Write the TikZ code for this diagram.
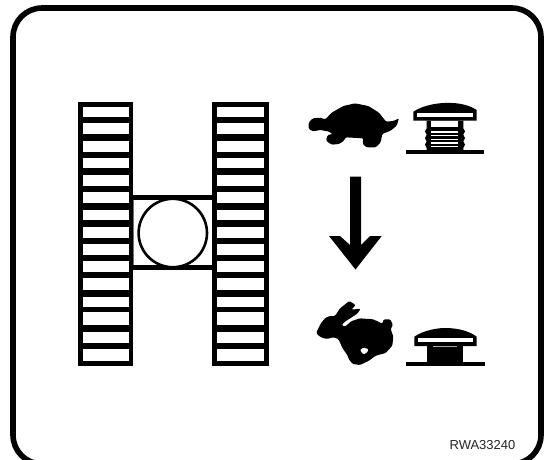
\documentclass[tikz,border=0pt]{standalone}
\usepackage{fontspec}
\setmainfont{Liberation Sans}
\tikzset{
  frameline/.style={draw=black,line width=5.6pt,rounded corners=29pt},
  zoomA/.style={x=0.33333pt,y=-0.33333pt},
  code/.style={font=\fontsize{13}{13}\selectfont,text=black!85,inner sep=0pt}
}
\begin{document}
\begin{tikzpicture}[x=1pt,y=-1pt]
\useasboundingbox (0,0) rectangle (547,459);
\fill[white] (0,0) rectangle (547,459);
\begin{scope}
\clip (0,0) rectangle (547,459);
\draw[frameline] (13,8) rectangle (541,464);
\end{scope}
% crosspieces and circle
\fill[black] (130,195.3) rectangle (215,200);
\fill[black] (130,265) rectangle (215,269.5);
\fill[black!55] (133,200) rectangle (133.8,265);
\fill[black!55] (211.6,200) rectangle (212.4,265);
\draw[black,line width=2.6pt,fill=white] (172.8,233) circle (34.2);
% tracks
\begin{scope}[shift={(60,90)},zoomA]
\fill[black] (53,35) rectangle (220,828);
\fill[black] (457,35) rectangle (627,828);
\foreach \a/\b in {50/82,98/132,152/185,203/235,256/288,306/340,360/390,411/443,462/495,513/545,564/600,620/650,666/705,726/758,776/812}{
  \fill[white] (68,\a) rectangle (206,\b);
  \fill[white] (471,\a) rectangle (612,\b);
}
\end{scope}
% turtle
\begin{scope}[shift={(300,90)},zoomA]
\fill[black,rounded corners=1.2pt] (26,98) -- (38,85) -- (60,83) -- (76,88) -- (95,68) -- (130,48) -- (165,40) -- (205,48) -- (237,68) -- (258,95) -- (280,93) -- (297,85) -- (290,107) -- (272,122) -- (247,132) -- (242,157) -- (227,172) -- (200,172) -- (188,162) -- (190,145) -- (137,142) -- (132,152) -- (117,162) -- (95,164) -- (78,152) -- (83,135) -- (98,132) -- (85,124) -- (60,120) -- (40,124) -- (26,117) -- cycle;
\end{scope}
% top button
\begin{scope}[shift={(400,95)},zoomA]
\fill[black] (40,77) -- (40,50) .. controls (70,30) and (120,20) .. (170,25) .. controls (195,28) and (215,35) .. (230,45) -- (230,77) -- cycle;
\fill[white] (52,55) rectangle (218,66);
\fill[black] (80,77) -- (80,100) -- (75,109) -- (80,119) -- (75,129) -- (80,139) -- (75,149) -- (80,159) -- (80,168) -- (190,168) -- (190,159) -- (195,149) -- (190,139) -- (195,129) -- (190,119) -- (195,109) -- (190,100) -- (190,77) -- cycle;
\fill[white] (93,77) rectangle (175,95);
\foreach \a in {109,120,131,142,153}{
  \fill[white] (93,\a) rectangle (175,\a+3.5);
}
\fill[black] (18,165) rectangle (252,178);
\end{scope}
% arrow
\fill[black] (350,176.7) -- (361,176.7) -- (361,245) -- (370,236) -- (381.7,236) -- (355.5,269.5) -- (329,236) -- (340,236) -- (350,245) -- cycle;
% rabbit
\begin{scope}[shift={(310,295)},zoomA]
\fill[black,rounded corners=1.2pt] (20,110) -- (33,84) -- (47,68) -- (60,63) -- (75,63) -- (90,40) -- (118,18) -- (137,30) -- (124,44) -- (152,41) -- (142,56) -- (105,80) -- (95,90) -- (105,95) -- (125,78) -- (150,70) -- (190,73) -- (217,86) -- (221,73) -- (241,73) -- (249,90) -- (242,102) -- (250,125) -- (247,152) -- (227,174) -- (197,182) -- (177,197) -- (150,210) -- (128,207) -- (116,192) -- (113,182) -- (98,160) -- (85,132) -- (70,127) -- (50,132) -- (33,127) -- (20,117) -- cycle;
\fill[white,rounded corners=1pt] (150,165) -- (160,158) -- (175,162) -- (172,172) -- (160,178) -- cycle;
\end{scope}
% bottom button
\begin{scope}[shift={(400,315)},zoomA]
\fill[black] (43,93) -- (43,65) .. controls (70,46) and (115,38) .. (140,39) .. controls (180,40) and (210,50) .. (230,65) -- (230,93) -- cycle;
\fill[white] (53,70) rectangle (218,82);
\fill[black] (80,93) rectangle (190,145);
\fill[black!35] (98,93) rectangle (170,96);
\fill[black] (18,142) rectangle (255,154);
\end{scope}
\node[code] (label) at (482.5,445) {RWA33240};
\end{tikzpicture}
\end{document}
